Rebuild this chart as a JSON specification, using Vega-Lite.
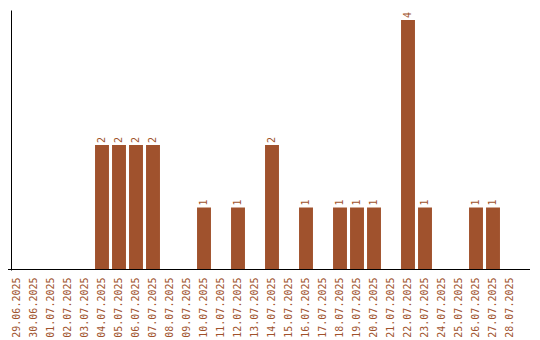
{
  "$schema": "https://vega.github.io/schema/vega-lite/v6.json",
  "width": 522,
  "height": 260,
  "autosize": {"type": "none"},
  "padding": {"left": 8, "top": 10, "right": 10, "bottom": 70},
  "config": {"view": {"stroke": null}},
  "data": {"values": [
    {"date": "29.06.2025", "count": 0},
    {"date": "30.06.2025", "count": 0},
    {"date": "01.07.2025", "count": 0},
    {"date": "02.07.2025", "count": 0},
    {"date": "03.07.2025", "count": 0},
    {"date": "04.07.2025", "count": 2},
    {"date": "05.07.2025", "count": 2},
    {"date": "06.07.2025", "count": 2},
    {"date": "07.07.2025", "count": 2},
    {"date": "08.07.2025", "count": 0},
    {"date": "09.07.2025", "count": 0},
    {"date": "10.07.2025", "count": 1},
    {"date": "11.07.2025", "count": 0},
    {"date": "12.07.2025", "count": 1},
    {"date": "13.07.2025", "count": 0},
    {"date": "14.07.2025", "count": 2},
    {"date": "15.07.2025", "count": 0},
    {"date": "16.07.2025", "count": 1},
    {"date": "17.07.2025", "count": 0},
    {"date": "18.07.2025", "count": 1},
    {"date": "19.07.2025", "count": 1},
    {"date": "20.07.2025", "count": 1},
    {"date": "21.07.2025", "count": 0},
    {"date": "22.07.2025", "count": 4},
    {"date": "23.07.2025", "count": 1},
    {"date": "24.07.2025", "count": 0},
    {"date": "25.07.2025", "count": 0},
    {"date": "26.07.2025", "count": 1},
    {"date": "27.07.2025", "count": 1},
    {"date": "28.07.2025", "count": 0}
  ]},
  "encoding": {
    "x": {
      "field": "date", "type": "nominal", "sort": null,
      "scale": {"range": [0.5, 510.5], "paddingInner": 0.18, "paddingOuter": 0.09},
      "axis": {"title": null, "domain": false, "ticks": false, "labelAngle": -90, "labelColor": "#a0522d", "labelFont": "DejaVu Sans Mono", "labelFontSize": 10, "labelPadding": 7}
    },
    "y": {
      "field": "count", "type": "quantitative",
      "scale": {"domain": [0, 4.16], "nice": false},
      "axis": {"title": null, "labels": false, "ticks": false, "grid": false, "domainColor": "black", "offset": -3}
    }
  },
  "layer": [
    {"mark": {"type": "bar", "color": "#a0522d"}},
    {
      "transform": [{"filter": "datum.count > 0"}],
      "mark": {"type": "text", "angle": -90, "align": "left", "baseline": "middle", "dx": 2, "font": "DejaVu Sans Mono", "fontSize": 10, "color": "#a0522d"},
      "encoding": {"text": {"field": "count", "type": "quantitative"}}
    },
    {
      "mark": {"type": "rule", "color": "black", "strokeWidth": 1, "yOffset": -0.5},
      "encoding": {"x": null, "y": {"datum": 0}}
    }
  ]
}
